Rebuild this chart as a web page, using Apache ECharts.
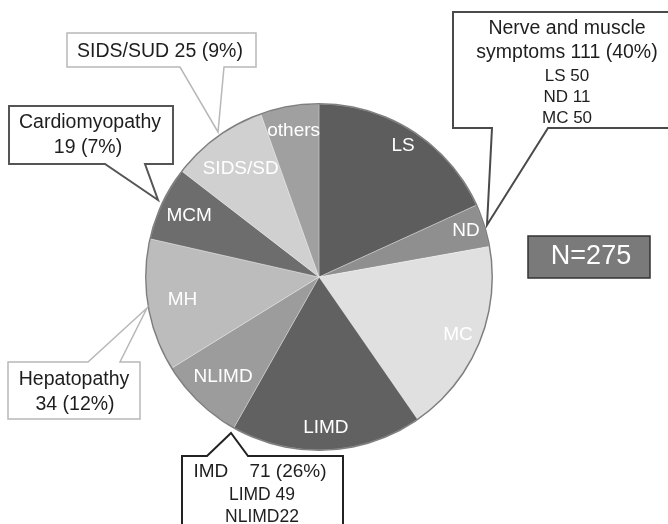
<!DOCTYPE html>
<html>
<head>
<meta charset="utf-8">
<script src="https://cdn.jsdelivr.net/npm/echarts@6/dist/echarts.min.js"></script>
<style>
  html, body { margin: 0; padding: 0; background: #fff; }
  #chart { width: 668px; height: 524px; }
</style>
</head>
<body>
<div id="chart"></div>
<script>
// Disease categories, clockwise from 12 o'clock
const categories = ['LS', 'ND', 'MC', 'LIMD', 'NLIMD', 'MH', 'MCM', 'SIDS/SUD', 'others'];
const sliceLabels = ['LS', 'ND', 'MC', 'LIMD', 'NLIMD', 'MH', 'MCM', 'SIDS/SD', 'others'];
const counts = [50, 11, 50, 49, 22, 34, 19, 25, 15];

// Clinical groups summarised in the callouts
const nerveGroup = ['LS', 'ND', 'MC'];
const imdGroup = ['LIMD', 'NLIMD'];

// Appearance
const sliceColors = ['#5d5d5d', '#8f8f8f', '#e0e0e0', '#616161', '#9c9c9c',
                     '#bcbcbc', '#6d6d6d', '#d0d0d0', '#a0a0a0'];
const labelRadius = [0.90, 0.89, 0.87, 0.87, 0.80, 0.80, 0.83, 0.77, 0.86];
const FONT = '"Liberation Sans", Arial, Helvetica, sans-serif';
const CX = 319, CY = 277, R = 173;

const total = counts.reduce((a, b) => a + b, 0);
const countOf = name => counts[categories.indexOf(name)];
const sumOf = names => names.reduce((s, n) => s + countOf(n), 0);
const pct = v => Math.round(v / total * 100) + '%';

// mid angle of every slice (clockwise from top), used for label placement
const midAngles = [];
{
  let acc = 0;
  counts.forEach(v => {
    midAngles.push((acc + v / 2) / total * 2 * Math.PI);
    acc += v;
  });
}

const chart = echarts.init(document.getElementById('chart'), null, { renderer: 'canvas' });

function callout(points, stroke, width) {
  return {
    type: 'polygon',
    z: 10,
    shape: { points: points },
    style: { fill: '#fff', stroke: stroke, lineWidth: width }
  };
}
function txt(text, x, y, size, color) {
  return {
    type: 'text',
    z: 11,
    x: x, y: y,
    style: {
      text: text,
      fill: color || '#1e1e1e',
      font: size + 'px ' + FONT,
      align: 'center',
      verticalAlign: 'middle'
    }
  };
}

const nerveTotal = sumOf(nerveGroup);
const imdTotal = sumOf(imdGroup);

const graphics = [
  // Nerve and muscle symptoms
  callout([[453, 12], [674, 12], [674, 128], [548, 128], [487, 225], [492, 128], [453, 128]], '#4a4a4a', 2),
  txt('Nerve and muscle', 567, 29, 19.5),
  txt('symptoms ' + nerveTotal + ' (' + pct(nerveTotal) + ')', 567, 53, 19.5),
  txt('LS ' + countOf('LS'), 567, 76, 17),
  txt('ND ' + countOf('ND'), 567, 97, 17),
  txt('MC ' + countOf('MC'), 567, 118, 17),

  // SIDS/SUD
  callout([[67, 33], [256, 33], [256, 67], [224, 67], [218, 132], [180, 67], [67, 67]], '#b8b8b8', 1.5),
  txt('SIDS/SUD ' + countOf('SIDS/SUD') + ' (' + pct(countOf('SIDS/SUD')) + ')', 160, 52, 19.5),

  // Cardiomyopathy
  callout([[9, 106], [173, 106], [173, 164], [145, 164], [158, 200], [105, 164], [9, 164]], '#555', 2),
  txt('Cardiomyopathy', 90, 123, 19.5),
  txt(countOf('MCM') + ' (' + pct(countOf('MCM')) + ')', 88, 148, 19.5),

  // Hepatopathy
  callout([[8, 362], [88, 362], [147, 308], [120, 362], [140, 362], [140, 419], [8, 419]], '#b8b8b8', 1.5),
  txt('Hepatopathy', 74, 380, 19.5),
  txt(countOf('MH') + ' (' + pct(countOf('MH')) + ')', 75, 405, 19.5),

  // Inherited metabolic disease
  callout([[182, 456], [207, 456], [231, 433], [248, 456], [343, 456], [343, 530], [182, 530]], '#222', 2),
  txt('IMD    ' + imdTotal + ' (' + pct(imdTotal) + ')', 260, 472, 19),
  txt('LIMD ' + countOf('LIMD'), 262, 495, 17.5),
  txt('NLIMD' + countOf('NLIMD'), 262, 517, 17.5),

  // total count badge
  {
    type: 'rect', z: 10,
    shape: { x: 528, y: 236, width: 122, height: 42 },
    style: { fill: '#7a7a7a', stroke: '#333', lineWidth: 1.5 }
  },
  txt('N=' + total, 591, 257, 27, '#fff')
];

const option = {
  animation: false,
  backgroundColor: '#fff',
  graphic: graphics,
  series: [
    {
      type: 'pie',
      center: [CX, CY],
      radius: [0, R],
      startAngle: 90,
      clockwise: true,
      silent: true,
      data: categories.map((c, i) => ({
        name: c,
        value: counts[i],
        itemStyle: { color: sliceColors[i] }
      })),
      itemStyle: { borderColor: 'rgba(255,255,255,0.35)', borderWidth: 0.8 },
      label: {
        show: true,
        position: 'inside',
        formatter: p => sliceLabels[p.dataIndex],
        color: '#fff',
        fontSize: 19,
        fontFamily: FONT
      },
      labelLine: { show: false },
      labelLayout: p => {
        const i = p.dataIndex;
        const a = midAngles[i];
        const k = labelRadius[i] * R;
        return {
          x: CX + k * Math.sin(a),
          y: CY - k * Math.cos(a),
          align: 'center',
          verticalAlign: 'middle'
        };
      }
    },
    {
      // thin outline around the pie
      type: 'pie',
      center: [CX, CY],
      radius: [R - 0.5, R + 1],
      silent: true,
      label: { show: false },
      labelLine: { show: false },
      data: [{ value: total, itemStyle: { color: '#7f7f7f' } }]
    }
  ]
};

chart.setOption(option);
</script>
</body>
</html>
